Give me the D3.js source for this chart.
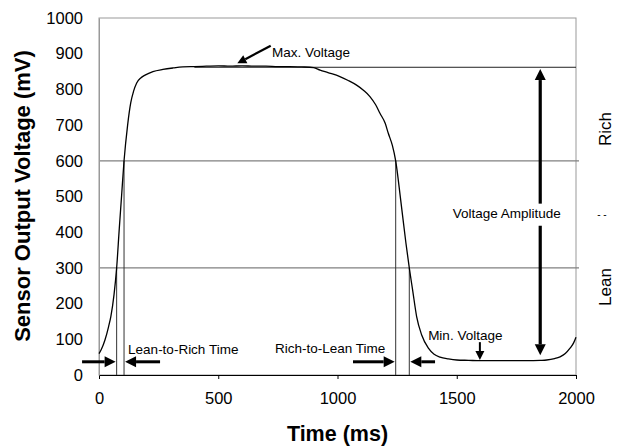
<!DOCTYPE html>
<html lang="en">
<head>
  <meta charset="utf-8">
  <title>Sensor output voltage</title>
  <script src="https://d3js.org/d3.v7.min.js"></script>
  <style>
    body { margin: 0; background: #fff; }
    #chart text { font-family: "Liberation Sans", Arial, sans-serif; fill: #000; }
  </style>
</head>
<body>
  <div id="chart"></div>
  <script>
    "use strict"

    // sensor trace
    var timeMs = [0, 10, 25, 40, 50, 63, 74, 85, 95, 105, 120, 133, 145, 158, 175, 193, 226, 268, 310, 352,
                  400, 450, 500, 550, 600, 650, 700, 750, 800, 850, 900, 927, 960, 1010, 1045, 1080, 1110,
                  1136, 1160, 1178, 1200, 1213, 1230, 1244, 1265, 1287, 1301, 1315, 1332, 1353, 1381, 1405,
                  1430, 1465, 1500, 1550, 1600, 1650, 1700, 1750, 1800, 1850, 1877, 1910, 1933, 1955, 1975,
                  1990, 2000];
    var voltage = [60, 72, 98, 135, 165, 225, 300, 410, 505, 600, 700, 762, 795, 818, 832, 840, 850, 856, 860, 863,
                   864, 865, 866, 865, 866, 865, 865, 864, 864, 863, 861, 854, 847, 836, 825, 812, 797,
                   780, 757, 733, 705, 677, 643, 600, 490, 369, 300, 238, 163, 112, 75, 58,
                   50, 45, 42, 41, 40, 40, 40, 40, 40, 41, 42, 46, 51, 60, 75,
                   90, 106];

    var gridLevels = [300, 600];
    var maxVoltage = 862;
    var crossTimes = [74, 105, 1244, 1301];
    var crossLevels = [300, 600, 600, 300];
    var xTicks = [0, 500, 1000, 1500, 2000];
    var yTicks = [0, 100, 200, 300, 400, 500, 600, 700, 800, 900, 1000];

    var W = 617, H = 446;
    var margin = {top: 18, right: 41, bottom: 71, left: 99};
    var innerW = W - margin.left - margin.right,
        innerH = H - margin.top - margin.bottom;

    var x = d3.scaleLinear().domain([0, 2000]).range([0, innerW]);
    var y = d3.scaleLinear().domain([0, 1000]).range([innerH, 0]);

    var svg = d3.select('#chart').append('svg')
      .attr('width', W).attr('height', H);
    var g = svg.append('g')
      .attr('transform', 'translate(' + margin.left + ',' + margin.top + ')');

    // frame
    g.append('rect')
      .attr('x', 0).attr('y', 0).attr('width', innerW).attr('height', innerH)
      .attr('fill', 'none').attr('stroke', '#999').attr('stroke-width', 1);

    // grid at 300 / 600
    g.selectAll('.grid').data(gridLevels).enter().append('line')
      .attr('x1', 0).attr('x2', innerW + 3)
      .attr('y1', d => y(d)).attr('y2', d => y(d))
      .attr('stroke', '#808080').attr('stroke-width', 1.2);

    // max voltage line
    g.append('line')
      .attr('x1', x(400)).attr('x2', innerW)
      .attr('y1', y(maxVoltage)).attr('y2', y(maxVoltage))
      .attr('stroke', '#222').attr('stroke-width', 1);

    // switching-time lines
    g.selectAll('.cross').data(crossTimes).enter().append('line')
      .attr('x1', d => x(d)).attr('x2', d => x(d))
      .attr('y1', (d, i) => y(crossLevels[i])).attr('y2', innerH)
      .attr('stroke', '#333').attr('stroke-width', 1);

    // axes
    var xAxis = g.append('g')
      .attr('transform', 'translate(0,' + innerH + ')')
      .call(d3.axisBottom(x).tickValues(xTicks).tickFormat(d3.format('d')).tickSize(4).tickPadding(13));
    xAxis.select('.domain').attr('stroke', '#000');
    xAxis.selectAll('text').style('font-size', '16.5px');

    var yAxis = g.append('g')
      .call(d3.axisLeft(y).tickValues(yTicks).tickFormat(d3.format('d')).tickSize(0).tickPadding(16));
    yAxis.select('.domain').attr('stroke', '#999');
    yAxis.selectAll('text').style('font-size', '16.5px');

    // curve
    var pts = timeMs.map((t, i) => [t, voltage[i]]);
    g.append('path')
      .datum(pts)
      .attr('fill', 'none').attr('stroke', '#000').attr('stroke-width', 1.3)
      .attr('d', d3.line().x(d => x(d[0])).y(d => y(d[1])).curve(d3.curveMonotoneX));

    // arrow helper: from (x1,y1) to tip (x2,y2) in pixels
    function arrow(x1, y1, x2, y2, w, head) {
      var a = Math.atan2(y2 - y1, x2 - x1);
      var bx = x2 - head * Math.cos(a), by = y2 - head * Math.sin(a);
      g.append('line')
        .attr('x1', x1).attr('y1', y1).attr('x2', bx).attr('y2', by)
        .attr('stroke', '#000').attr('stroke-width', w);
      var hw = head * 0.5;
      var p = [[x2, y2],
               [bx + hw * Math.sin(a), by - hw * Math.cos(a)],
               [bx - hw * Math.sin(a), by + hw * Math.cos(a)]];
      g.append('polygon').attr('points', p.map(q => q.join(',')).join(' ')).attr('fill', '#000');
    }

    var arrowLevel = 37;
    arrow(x(-71), y(arrowLevel), x(crossTimes[0]) - 1, y(arrowLevel), 3, 11);
    arrow(x(256), y(arrowLevel), x(crossTimes[1]) + 1, y(arrowLevel), 3, 11);
    arrow(x(1065), y(arrowLevel), x(crossTimes[2]) - 1, y(arrowLevel), 3, 11);
    arrow(x(1409), y(arrowLevel), x(crossTimes[3]) + 1, y(arrowLevel), 3, 11);

    // voltage amplitude
    arrow(x(1850), y(420), x(1850), y(857), 3.2, 11);
    arrow(x(1850), y(418), x(1850), y(55), 3.2, 11);
    g.append('rect')
      .attr('x', x(1850) - 4).attr('y', y(480)).attr('width', 8).attr('height', y(420) - y(480))
      .attr('fill', '#fff');

    // min / max voltage pointers
    arrow(x(1597), y(92), x(1597), y(42), 2, 9);
    arrow(x(720), y(922), x(580), y(873), 2.2, 9);

    function label(txt, px, py, size, anchor) {
      return g.append('text').attr('x', px).attr('y', py)
        .attr('text-anchor', anchor || 'start')
        .style('font-size', size + 'px').text(txt);
    }
    label('Max. Voltage', x(725), y(905) + 5, 13.5);
    label('Lean-to-Rich Time', x(122), 335.5, 13.5);
    label('Rich-to-Lean Time', x(1200), 335, 13.5, 'end');
    label('Voltage Amplitude', x(1710), 199.5, 13.5, 'middle');
    label('Min. Voltage', x(1380), 322, 13.5);

    // rich / lean side labels
    svg.append('text')
      .attr('transform', 'translate(611,129) rotate(-90)')
      .attr('text-anchor', 'middle').style('font-size', '17px').text('Rich');
    svg.append('text')
      .attr('transform', 'translate(611,287) rotate(-90)')
      .attr('text-anchor', 'middle').style('font-size', '17px').text('Lean');
    svg.append('text')
      .attr('x', 602).attr('y', 218)
      .attr('text-anchor', 'middle').style('font-size', '10px').text('-   -');

    // axis titles
    svg.append('text')
      .attr('x', margin.left + innerW / 2).attr('y', 441)
      .attr('text-anchor', 'middle').style('font-size', '21.5px').style('font-weight', 'bold')
      .text('Time (ms)');
    svg.append('text')
      .attr('transform', 'translate(30,196) rotate(-90)')
      .attr('text-anchor', 'middle').style('font-size', '22px').style('font-weight', 'bold')
      .text('Sensor Output Voltage (mV)');
  </script>
</body>
</html>
